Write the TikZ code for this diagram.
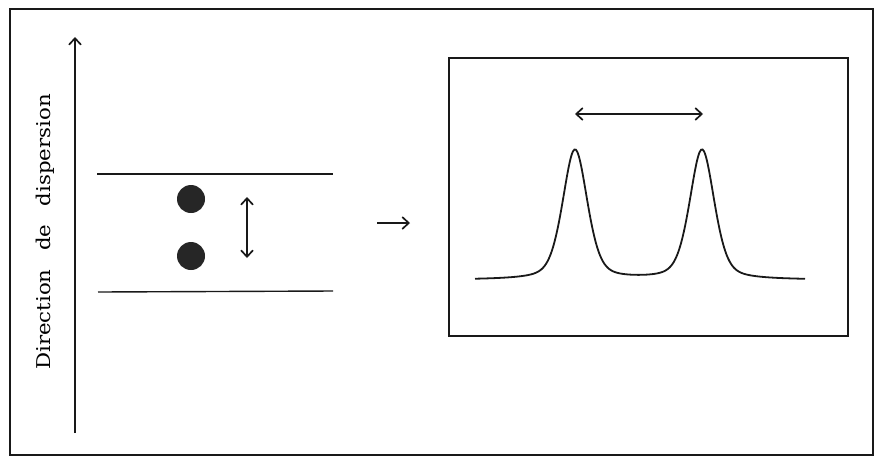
\documentclass[tikz,border=0pt]{standalone}
\usepackage{fontspec}
\setmainfont{DejaVu Serif}
\usetikzlibrary{arrows.meta}
\begin{document}
\begin{tikzpicture}[x=1pt,y=-1pt,
  line/.style={line width=1.5pt, draw=black!90},
  thinline/.style={line width=1.4pt, draw=black!90},
  tip/.style={Straight Barb[length=6.5pt,width=12pt,line width=1.7pt]},
  arr/.style={thinline,-{Straight Barb[length=6.5pt,width=12pt,line width=1.7pt]}},
  darr/.style={thinline,{Straight Barb[length=6.5pt,width=12pt,line width=1.7pt]}-{Straight Barb[length=6.5pt,width=12pt,line width=1.7pt]}},
  dot/.style={circle,fill=black!85,minimum size=28pt,inner sep=0pt},
  lbl/.style={font=\fontsize{19}{22}\selectfont,rotate=90,inner sep=0pt}]
\useasboundingbox (0,0) rectangle (874,456);
% outer frame
\draw[line] (10,9) rectangle (873,455);
% direction axis
\coordinate (axb) at (75,433);
\coordinate (axt) at (75,37);
\draw[arr] (axb) -- (axt);
\node[lbl] (label) at (45,232) {\scalebox{1.12}[1]{Direction\hspace{0.55em} de\hspace{0.55em} dispersion}};
% plate lines
\coordinate (t1) at (97,174); \coordinate (t2) at (333,174);
\coordinate (b1) at (98,292); \coordinate (b2) at (333,291);
\draw[thinline] (t1) -- (t2);
\draw[thinline] (b1) -- (b2);
% spots
\node[dot] (s1) at (191,199) {};
\node[dot] (s2) at (191,256) {};
\coordinate (d1) at (247,197);
\coordinate (d2) at (247,258);
\draw[darr] (d1) -- (d2);
% middle arrow
\coordinate (m1) at (377,223);
\coordinate (m2) at (410,223);
\draw[arr] (m1) -- (m2);
% right box
\node[draw=black!90,line width=1.5pt,minimum width=399pt,minimum height=278pt,inner sep=0pt,anchor=north west] (box) at (448,57) {};
\coordinate (h1) at (575,114);
\coordinate (h2) at (703,114);
\draw[darr] (h1) -- (h2);
% chromatogram
\draw[line width=1.8pt,black!90,smooth] plot[domain=475:805,samples=220]
  (\x,{280-130*(0.4/(1+((\x-575)/14.5)^2)+0.6*exp(-0.5*((\x-575)/12.5)^2)
                 +0.4/(1+((\x-702)/14.5)^2)+0.6*exp(-0.5*((\x-702)/12.5)^2))});
\end{tikzpicture}
\end{document}
